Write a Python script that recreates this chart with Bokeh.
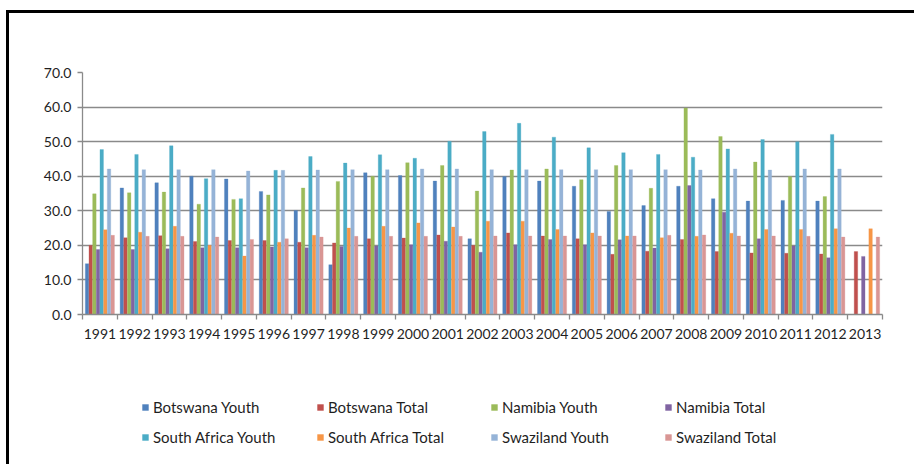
from bokeh.plotting import figure
from bokeh.layouts import column, row
from bokeh.models import (Range1d, FixedTicker, NumeralTickFormatter, Legend, LegendItem,
                          ColumnDataSource, Spacer)
from bokeh.transform import dodge
from bokeh.embed import file_html
from bokeh.resources import INLINE

nan = float("nan")

years = list(range(1991, 2014))

botswana_youth = [14.7, 36.6, 38.1, 40.0, 39.2, 35.6, 30.1, 14.4, 41.0, 40.2, 38.6, 21.9,
                  39.9, 38.6, 37.1, 29.8, 31.5, 37.1, 33.5, 32.8, 33.0, 32.8, nan]
botswana_total = [20.0, 22.2, 22.8, 21.1, 21.4, 21.4, 20.9, 20.7, 21.9, 22.1, 23.0, 20.0,
                  23.6, 22.7, 21.9, 17.4, 18.3, 21.7, 18.2, 17.8, 17.7, 17.5, 18.2]
namibia_youth = [34.9, 35.2, 35.4, 31.9, 33.3, 34.6, 36.6, 38.5, 40.0, 43.9, 43.1, 35.7,
                 41.8, 42.1, 39.0, 43.1, 36.5, 59.7, 51.5, 44.1, 39.9, 34.1, nan]
namibia_total = [18.8, 18.8, 19.0, 19.3, 19.3, 19.5, 19.3, 19.7, 19.8, 20.2, 21.2, 18.0,
                 20.2, 21.7, 20.2, 21.6, 19.2, 37.3, 29.6, 21.9, 19.8, 16.4, 16.8]
south_africa_youth = [47.7, 46.3, 48.8, 39.3, 33.5, 41.7, 45.7, 43.8, 46.2, 45.2, 50.1, 52.9,
                      55.3, 51.3, 48.2, 46.8, 46.3, 45.5, 47.9, 50.6, 50.0, 52.1, nan]
south_africa_total = [24.5, 23.8, 25.5, 20.0, 16.9, 20.9, 22.9, 25.0, 25.5, 26.5, 25.3, 27.0,
                      27.0, 24.6, 23.6, 22.7, 22.2, 22.6, 23.5, 24.6, 24.6, 24.8, 24.8]
swaziland_youth = [42.1, 41.9, 41.9, 41.9, 41.5, 41.7, 41.8, 41.9, 41.9, 42.1, 42.1, 41.9,
                   41.9, 41.9, 41.9, 41.9, 41.9, 41.8, 42.1, 41.8, 42.1, 42.1, nan]
swaziland_total = [22.9, 22.6, 22.6, 22.4, 21.7, 21.9, 22.4, 22.6, 22.6, 22.6, 22.6, 22.7,
                   22.7, 22.7, 22.7, 22.7, 22.9, 23.0, 22.7, 22.7, 22.6, 22.4, 22.4]

series_names = ["Botswana Youth", "Botswana Total", "Namibia Youth", "Namibia Total",
                "South Africa Youth", "South Africa Total", "Swaziland Youth", "Swaziland Total"]
series_values = [botswana_youth, botswana_total, namibia_youth, namibia_total,
                 south_africa_youth, south_africa_total, swaziland_youth, swaziland_total]
colors = ["#4F81BD", "#C0504D", "#9BBB59", "#8064A2",
          "#4BACC6", "#F79646", "#95B3D7", "#D99694"]

y_ticks = [0, 10, 20, 30, 40, 50, 60, 70]

data = {"year": years}
keys = []
for i, vals in enumerate(series_values):
    k = "s%d" % i
    keys.append(k)
    data[k] = vals
source = ColumnDataSource(data)

FONT = "Lato"
TXT = "#1f1f1f"
GRID = "#8a8a8a"
W = 905

p = figure(width=W, height=335, output_backend="svg", toolbar_location=None,
           x_range=Range1d(1990.5, 2013.5), y_range=Range1d(0, 70),
           min_border_left=73, min_border_right=32, min_border_top=59, min_border_bottom=34)
p.outline_line_color = None

bw = 1.0 / 9.5
for i, k in enumerate(keys):
    p.vbar(x=dodge("year", (i - 3.5) * bw, range=p.x_range), top=k, width=bw * 0.95,
           source=source, fill_color=colors[i], line_color=colors[i], line_width=0.3)

p.xaxis.ticker = FixedTicker(ticks=years, minor_ticks=[y - 0.5 for y in years] + [2013.5])
p.xaxis.major_tick_line_color = None
p.xaxis.minor_tick_line_color = GRID
p.xaxis.minor_tick_out = 5
p.xaxis.minor_tick_in = 0
p.xaxis.minor_tick_line_width = 1.3
p.xaxis.axis_line_color = GRID
p.xaxis.axis_line_width = 1.3
p.xaxis.major_label_text_font = FONT
p.xaxis.major_label_text_font_size = "14px"
p.xaxis.major_label_text_color = TXT
p.xaxis.major_label_standoff = 8

p.yaxis.ticker = FixedTicker(ticks=y_ticks)
p.yaxis.formatter = NumeralTickFormatter(format="0.0")
p.yaxis.major_tick_line_color = GRID
p.yaxis.major_tick_out = 5
p.yaxis.major_tick_in = 0
p.yaxis.major_tick_line_width = 1.3
p.yaxis.minor_tick_line_color = None
p.yaxis.axis_line_color = GRID
p.yaxis.axis_line_width = 1.3
p.yaxis.major_label_text_font = FONT
p.yaxis.major_label_text_font_size = "14px"
p.yaxis.major_label_text_color = TXT
p.yaxis.major_label_standoff = 6

p.xgrid.grid_line_color = None
p.ygrid.grid_line_color = GRID
p.ygrid.grid_line_width = 1.3

# legend figure: its renderers are hidden (and out of range); only the legend shows
lp = figure(width=W, height=116, output_backend="svg", toolbar_location=None,
            x_range=Range1d(1990.5, 2013.5), y_range=Range1d(100, 110),
            x_axis_location=None, y_axis_location=None,
            min_border_left=0, min_border_right=0, min_border_top=0, min_border_bottom=0)
lp.grid.visible = False
lp.outline_line_color = None
lrs = []
for i, k in enumerate(keys):
    r = lp.vbar(x=dodge("year", (i - 3.5) * bw, range=lp.x_range), top=k, width=bw,
                source=source, fill_color=colors[i], line_color=None)
    r.visible = False
    lrs.append(r)

# offsets from the (aligned) frame's left edge
col_x = [59, 234, 408, 582]
for c in range(4):
    items = [LegendItem(label=series_names[c], renderers=[lrs[c]]),
             LegendItem(label=series_names[c + 4], renderers=[lrs[c + 4]])]
    lg = Legend(items=items, location=(col_x[c], 18), orientation="vertical",
                padding=0, margin=0, spacing=12, glyph_width=8, glyph_height=8,
                label_standoff=4, label_text_font=FONT, label_text_font_size="15px",
                label_text_color=TXT, border_line_color=None, background_fill_alpha=0,
                click_policy="none", inactive_fill_alpha=0)
    lp.add_layout(lg)

inner = column(p, lp, spacing=0,
               styles={"border-top": "3px solid black", "border-left": "3px solid black"})
layout = column(Spacer(width=914, height=10), row(Spacer(width=6, height=454), inner, spacing=0),
                spacing=0)

open("out.html", "w").write(file_html(layout, INLINE))
